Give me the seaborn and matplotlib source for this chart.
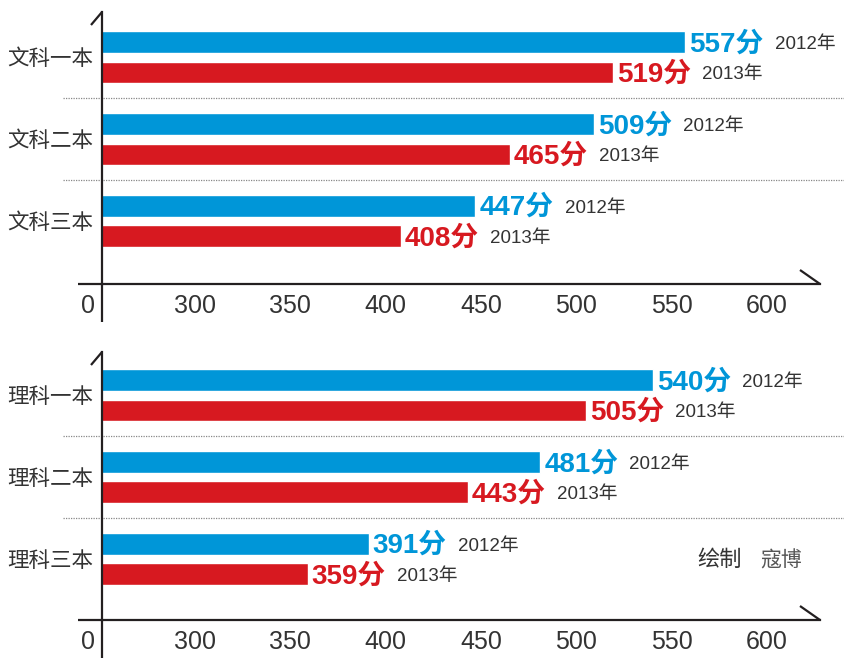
import pandas as pd
import numpy as np
import matplotlib
matplotlib.use("Agg")
import matplotlib.pyplot as plt
import seaborn as sns

# data
years = ["2012年", "2013年"]
wen_cats = ["文科一本", "文科二本", "文科三本"]
wen_2012 = [557, 509, 447]
wen_2013 = [519, 465, 408]
li_cats = ["理科一本", "理科二本", "理科三本"]
li_2012 = [540, 481, 391]
li_2013 = [505, 443, 359]
ticks = [300, 350, 400, 450, 500, 550, 600]

BLUE = "#0096d8"
RED = "#d71920"
DARK = "#231f20"
TXT = "#333333"

sns.set_style("white")
plt.rcParams["font.family"] = ["Liberation Sans", "Noto Sans CJK SC", "DejaVu Sans"]

W, H = 844, 658
fig = plt.figure(figsize=(W / 100, H / 100), dpi=100)


def px_axes(top, bottom, left=102, right=820):
    return fig.add_axes([left / W, 1 - bottom / H, (right - left) / W, (bottom - top) / H])


def draw_panel(ax, cats, v12, v13, ylim, pix_w, pix_h, spine_down):
    df = pd.DataFrame({
        "类别": cats * 2,
        "分数": v12 + v13,
        "年份": [years[0]] * len(cats) + [years[1]] * len(cats),
    })
    sns.barplot(data=df, y="类别", x="分数", hue="年份", orient="h",
                palette=[BLUE, RED], dodge=True, width=0.74, gap=0.28,
                legend=False, ax=ax, saturation=1)
    ax.set_xlim(251.2, 627.8)
    ax.set_ylim(*ylim)
    ax.set_xticks(ticks)
    ax.set_xlabel("")
    ax.set_ylabel("")
    for s in ["top", "right"]:
        ax.spines[s].set_visible(False)
    for s in ["left", "bottom"]:
        ax.spines[s].set_color(DARK)
        ax.spines[s].set_linewidth(1.6)
    ax.tick_params(axis="x", direction="in", length=15, width=1.6, color=DARK,
                   pad=7, labelsize=18, labelcolor=TXT)
    ax.tick_params(axis="y", length=0, pad=6, labelsize=15.5, labelcolor=TXT)

    lk = dict(transform=ax.transAxes, clip_on=False, color=DARK, lw=1.6,
              solid_capstyle="butt")
    # axis extensions and end slashes
    ax.plot([-24 / pix_w, 0], [0, 0], **lk)
    ax.plot([0, 0], [-spine_down / pix_h, 0], **lk)
    ax.plot([-11 / pix_w, 0], [1 - 13 / pix_h, 1], **lk)
    ax.plot([1 - 20 / pix_w, 1], [14 / pix_h, 0], **lk)
    ax.annotate("0", xy=(0, 0), xycoords="axes fraction", xytext=(-5, -7),
                textcoords="offset points", ha="right", va="top",
                fontsize=18, color=TXT)

    # dotted separators
    for y in [0.5, 1.5]:
        ax.plot([-39 / pix_w, 742 / pix_w], [y, y], transform=ax.get_yaxis_transform(),
                clip_on=False, color="#888888", lw=0.9, ls=(0, (1, 1)))

    # value labels
    for container, year, c in zip(ax.containers, years, [BLUE, RED]):
        for bar in container:
            v = bar.get_width()
            yc = bar.get_y() + bar.get_height() / 2
            t = ax.annotate(f"{int(round(v))}分", xy=(v, yc), xytext=(3, -1.5),
                            textcoords="offset points", ha="left", va="center",
                            fontsize=20, fontweight="bold", color=c)
            ax.annotate(year, xy=(1, 0.5), xycoords=t, xytext=(8, 0),
                        textcoords="offset points", ha="left", va="center",
                        fontsize=13.5, color=TXT)


ax1 = px_axes(12, 284)
draw_panel(ax1, wen_cats, wen_2012, wen_2013, (2.768, -0.555), 718, 272, 38)

ax2 = px_axes(352, 620)
draw_panel(ax2, li_cats, li_2012, li_2013, (2.744, -0.53), 718, 268, 38)

fig.text(697 / W, 1 - 560 / H, "绘制", fontsize=16, color=TXT, va="center", ha="left")
fig.text(760 / W, 1 - 560 / H, "寇博", fontsize=15, color="#555555", va="center", ha="left")

fig.savefig("out.png", dpi=100)
